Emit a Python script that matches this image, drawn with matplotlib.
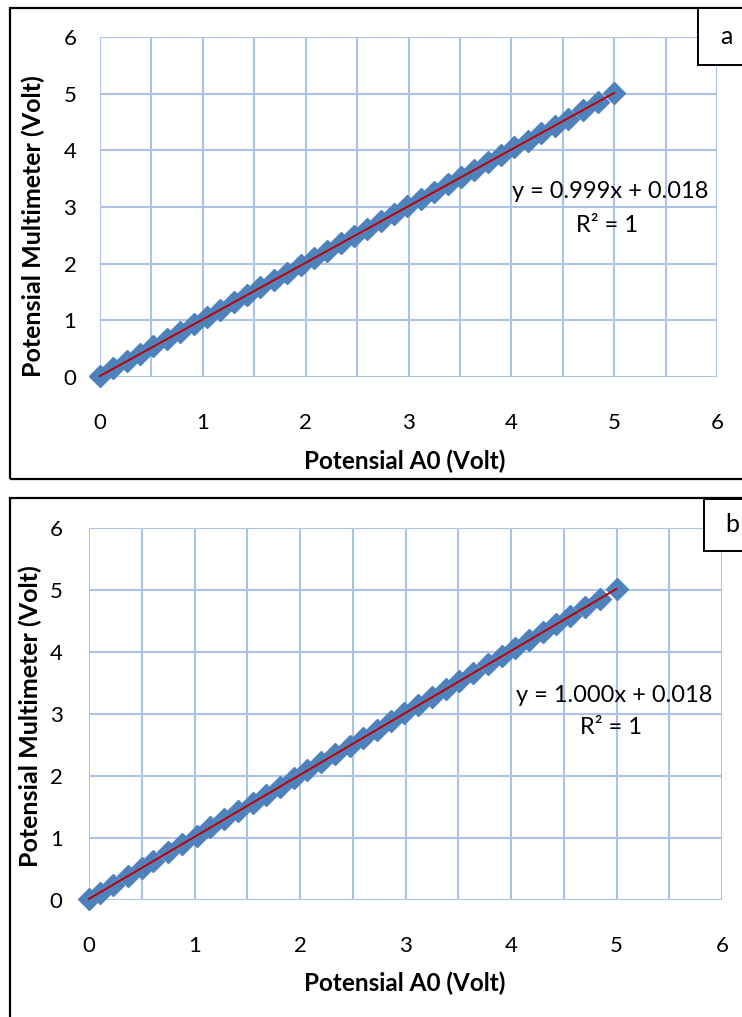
import numpy as np
import matplotlib
matplotlib.use("Agg")
import matplotlib.pyplot as plt
from matplotlib.patches import Rectangle

plt.rcParams['font.family'] = ['Lato', 'DejaVu Sans']

# data (Volt)
a_x = [0.00, 0.13, 0.26, 0.39, 0.52, 0.65, 0.78, 0.91, 1.04, 1.17, 1.30, 1.43,
       1.56, 1.69, 1.82, 1.95, 2.08, 2.21, 2.34, 2.47, 2.60, 2.73, 2.86, 2.99,
       3.12, 3.25, 3.38, 3.51, 3.64, 3.77, 3.90, 4.03, 4.16, 4.29, 4.42, 4.55,
       4.70, 4.84, 5.00]
a_y = [0.02, 0.15, 0.28, 0.41, 0.54, 0.67, 0.80, 0.93, 1.06, 1.19, 1.32, 1.45,
       1.58, 1.71, 1.84, 1.97, 2.10, 2.23, 2.36, 2.49, 2.62, 2.75, 2.88, 3.01,
       3.14, 3.27, 3.40, 3.53, 3.66, 3.79, 3.92, 4.05, 4.17, 4.30, 4.43, 4.56,
       4.71, 4.85, 5.01]
b_x = [0.00, 0.10, 0.23, 0.37, 0.50, 0.61, 0.75, 0.88, 1.02, 1.15, 1.28, 1.41,
       1.55, 1.68, 1.81, 1.94, 2.07, 2.20, 2.33, 2.47, 2.60, 2.73, 2.86, 2.99,
       3.12, 3.25, 3.38, 3.51, 3.64, 3.78, 3.91, 4.04, 4.17, 4.30, 4.43, 4.56,
       4.70, 4.84, 5.00]
b_y = [0.02, 0.12, 0.25, 0.39, 0.52, 0.63, 0.77, 0.90, 1.04, 1.17, 1.30, 1.43,
       1.57, 1.70, 1.83, 1.96, 2.09, 2.22, 2.35, 2.49, 2.62, 2.75, 2.88, 3.01,
       3.14, 3.27, 3.40, 3.53, 3.66, 3.80, 3.93, 4.06, 4.19, 4.32, 4.45, 4.58,
       4.72, 4.86, 5.02]

fits = {'a': (0.999, 0.018), 'b': (1.000, 0.018)}
eq_text = {'a': 'y = 0.999x + 0.018', 'b': 'y = 1.000x + 0.018'}
ticks = [0, 1, 2, 3, 4, 5, 6]

W, H = 742, 1017
fig = plt.figure(figsize=(W / 100, H / 100), dpi=100)

def fx(px):
    return px / W

def fy(py):
    return 1 - py / H

blue = '#4f81bd'
gridc = '#adc2e6'

def panel(name, xs, ys, box, x0, x1, y6, y0, eq_pos, ylab, xlab_y, xpad, ypad):
    ax = fig.add_axes([fx(x0), fy(y0), fx(x1 - x0), (y0 - y6) / H])
    ax.set_xlim(0, 6)
    ax.set_ylim(0, 6)
    ax.set_xticks(ticks)
    ax.set_yticks(ticks)
    ax.set_xticks(np.arange(0, 6.01, 0.5), minor=True)
    ax.grid(True, which='both', axis='x', color=gridc, lw=1.5)
    ax.grid(True, which='major', axis='y', color=gridc, lw=1.5)
    ax.set_axisbelow(True)
    for s in ax.spines.values():
        s.set_visible(False)
    ax.tick_params(which='both', length=0, labelsize=16)
    ax.tick_params(axis='x', pad=xpad)
    ax.tick_params(axis='y', pad=ypad)
    ax.patch.set_alpha(0)

    ax.plot(xs, ys, ls='none', marker='D', ms=11, color=blue, mec=blue,
            clip_on=False, zorder=3)
    m, c = fits[name]
    lx = np.array([min(xs), max(xs)])
    ax.plot(lx, m * lx + c, color='#c00000', lw=1.4, zorder=4, clip_on=False)

    fig.text(fx(eq_pos[0]), fy(eq_pos[1]), eq_text[name], ha='center',
             va='center', fontsize=17)
    fig.text(fx(eq_pos[0] - 3), fy(eq_pos[1] + 33), 'R² = 1', ha='center',
             va='center', fontsize=17)

    fig.text(fx(405), fy(xlab_y), 'Potensial A0 (Volt)', ha='center',
             va='center', fontsize=17.5, fontweight='bold')
    fig.text(fx(ylab[0]), fy(ylab[1]), 'Potensial Multimeter (Volt)',
             ha='center', va='center', rotation=90, fontsize=18,
             fontweight='bold')

    # outer frame
    bx0, by0, bx1, by1 = box
    fig.patches.append(Rectangle((fx(bx0), fy(by1)), fx(bx1 - bx0), (by1 - by0) / H,
                                 transform=fig.transFigure, fill=False,
                                 ec='black', lw=1.6))
    return ax

panel('a', a_x, a_y, (10, 8, 760, 479), 100, 717, 37, 377,
      (610, 192), (33, 226), 461, 26, 17)
panel('b', b_x, b_y, (10, 498, 760, 1040), 89, 722, 528, 900,
      (614, 695), (30, 716), 983, 26, 19)

# letter boxes
for lab, (lx0, ly0, ly1) in {'a': (698, 8, 65), 'b': (704, 499, 551)}.items():
    fig.patches.append(Rectangle((fx(lx0), fy(ly1)), fx(760 - lx0), (ly1 - ly0) / H,
                                 transform=fig.transFigure, fc='white',
                                 ec='black', lw=1.4, zorder=5))
    fig.text(fx(lx0 + 28), fy((ly0 + ly1) / 2), lab, ha='center', va='center',
             fontsize=18, zorder=6)

fig.savefig('out.png', dpi=100)
